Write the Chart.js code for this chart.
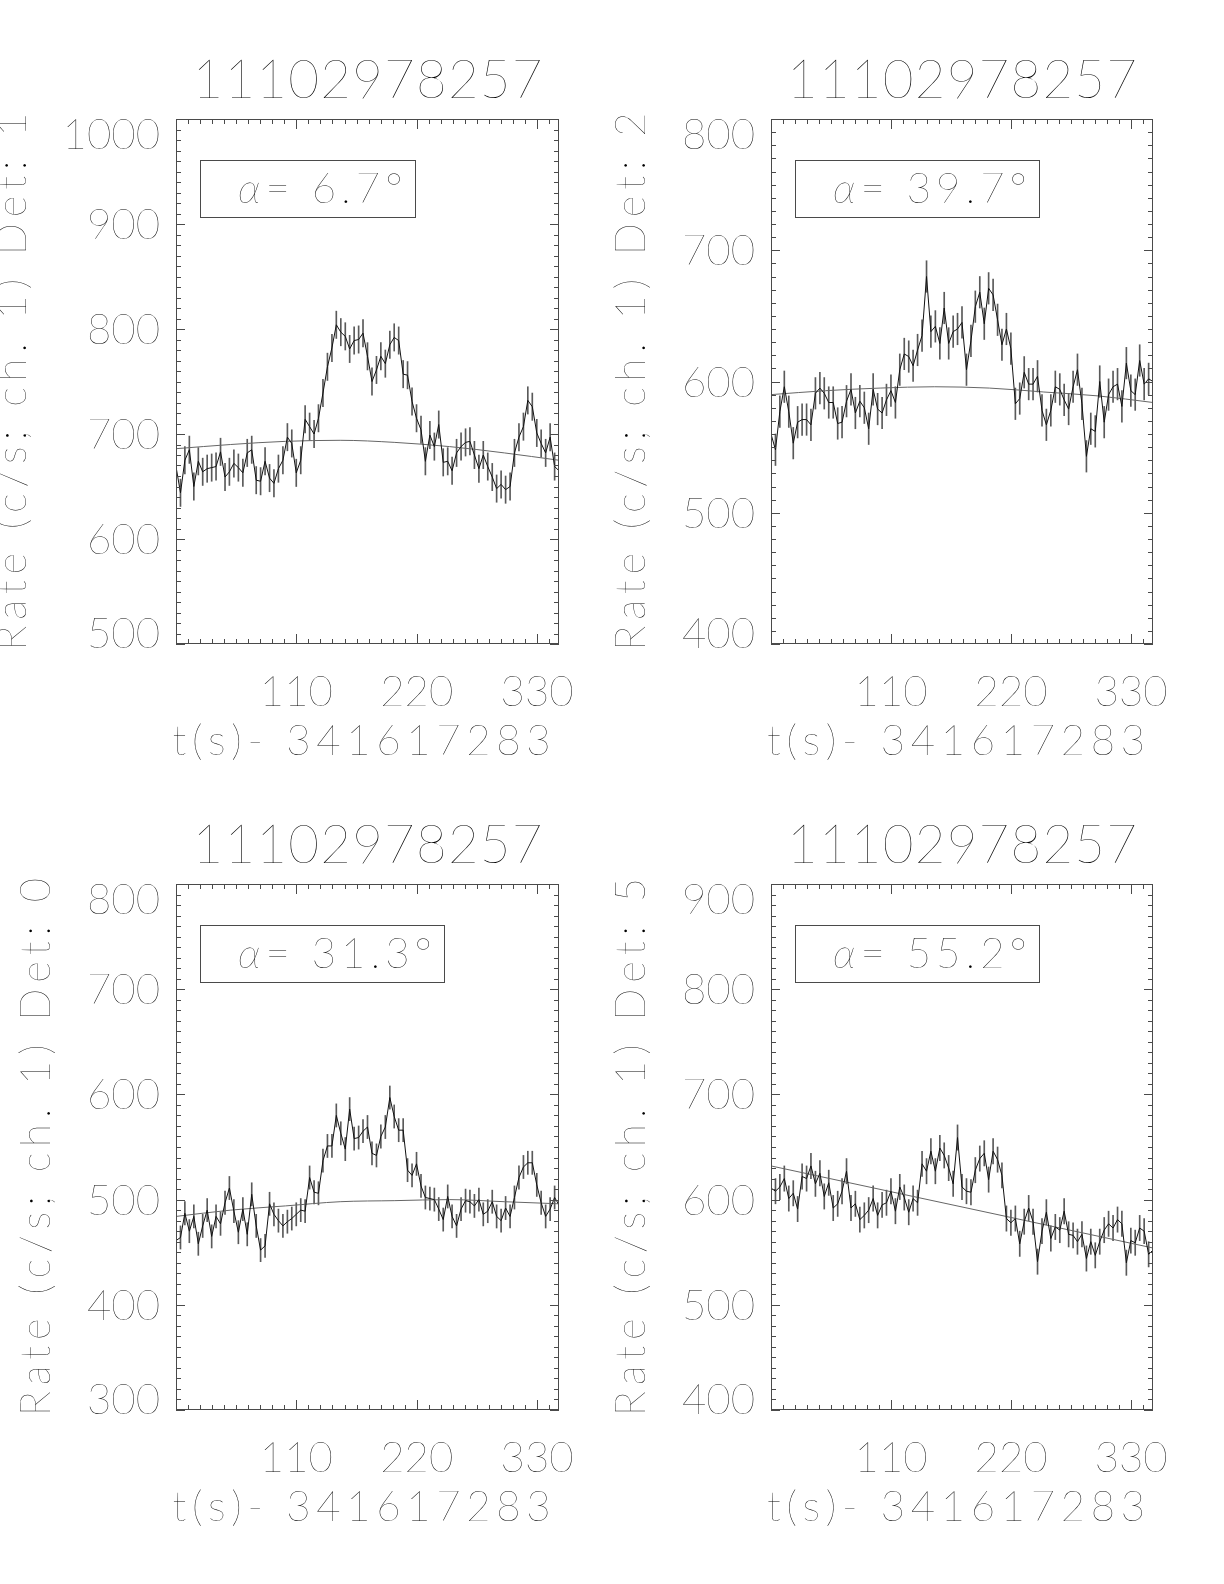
<!DOCTYPE html>
<html>
<head>
<meta charset="utf-8">
<script src="https://cdn.jsdelivr.net/npm/chart.js@4.4.1/dist/chart.umd.min.js"></script>
<style>
html,body{margin:0;padding:0;background:#fff;}
#wrap{position:relative;width:1224px;height:1584px;overflow:hidden;background:#fff;}
canvas{position:absolute;}
</style>
</head>
<body>
<div id="wrap">
<canvas id="c1" width="612" height="792" style="left:0px;top:0px"></canvas>
<canvas id="c2" width="612" height="792" style="left:612px;top:0px"></canvas>
<canvas id="c3" width="612" height="792" style="left:0px;top:792px"></canvas>
<canvas id="c4" width="612" height="792" style="left:612px;top:792px"></canvas>
</div>
<script>
// ---------------- DATA ----------------
const times = [0,4.1,8.1,12.2,16.3,20.4,24.4,28.5,32.6,36.6,40.7,44.8,48.8,52.9,57.0,61.1,65.1,69.2,73.3,77.3,
  81.4,85.5,89.5,93.6,97.7,101.8,105.8,109.9,114.0,118.0,122.1,126.2,130.2,134.3,138.4,142.5,146.5,150.6,154.7,158.7,
  162.8,166.9,170.9,175.0,179.1,183.2,187.2,191.3,195.4,199.4,203.5,207.6,211.6,215.7,219.8,223.9,227.9,232.0,236.1,240.1,
  244.2,248.3,252.3,256.4,260.5,264.6,268.6,272.7,276.8,280.8,284.9,289.0,293.0,297.1,301.2,305.3,309.3,313.4,317.5,321.5,
  325.6,329.7,333.7,337.8,341.9,346.0,350.0];

const rateDet1 = [669,644,675,685,650,674,664,667,668,669,
  683,659,664,672,668,663,682,685,656,655,
  674,658,653,667,675,697,691,663,675,714,
  707,700,715,739,764,782,804,797,793,781,
  789,790,796,774,750,761,774,767,785,792,
  789,757,756,731,715,704,674,699,688,709,
  673,674,665,682,688,692,693,680,667,680,
  669,659,648,652,647,650,682,697,707,732,
  726,701,691,682,697,669,665];

const rateDet2 = [560,548,577,596,577,553,569,571,571,567,
  591,595,591,584,584,568,569,585,594,576,
  585,580,564,594,579,576,586,593,584,609,
  621,619,612,624,635,680,638,642,629,656,
  629,638,640,645,609,631,657,668,644,671,
  666,647,628,640,625,583,587,607,598,598,
  604,578,567,578,596,594,586,579,596,609,
  583,543,564,562,600,569,590,596,598,581,
  614,593,590,616,598,602,600];

const rateDet0 = [461,464,487,470,484,458,475,490,465,484,
  477,497,511,489,469,491,467,505,475,452,
  456,496,486,480,475,479,482,486,490,489,
  521,507,506,537,551,551,580,563,548,586,
  558,559,565,569,544,542,560,569,597,579,
  566,566,528,523,534,513,502,501,500,491,
  481,503,484,475,491,499,498,494,500,486,
  489,498,484,480,492,484,502,521,531,535,
  535,514,497,484,491,502,495];

const rateDet5 = [611,608,612,620,601,606,591,622,620,632,
  615,625,603,616,592,596,608,627,592,596,
  581,585,590,601,585,595,597,608,589,612,
  602,588,601,597,634,627,646,627,649,642,
  630,615,659,612,608,607,628,639,644,619,
  646,638,623,582,578,582,558,579,592,579,
  541,570,588,563,574,571,589,567,566,560,
  567,544,560,547,560,571,577,573,581,577,
  540,561,559,573,570,548,552];

// background model curves
const modelT = [0,50,100,150,200,250,300,350];
const modelDet1 = [686,690,693,694,692,688,682,675];
const modelDet2 = [590,593,595,596,595,592,589,584];
const modelDet0 = [484,490,494,498,499,500,498,496];
const modelTLine = [0,350];
const modelDet5 = [632,554];

// error bar half widths (c/s)
const errDet1 = 13, errDet2 = 12, errDet0 = 11, errDet5 = 12;

// tick labels
const xTickLabels = [110,220,330];
const yTicksDet1 = [500,600,700,800,900,1000];
const yTicksDet2 = [400,500,600,700,800];
const yTicksDet0 = [300,400,500,600,700,800];
const yTicksDet5 = [400,500,600,700,800,900];

const titleText = '11102978257';
const xTitleText = 't(s)- 341617283';
const detNames = ['1','2','0','5'];
const alphaTexts = ['6.7','39.7','31.3','55.2'];

// ---------------- STYLE ----------------
const FONT = '"Lato","DejaVu Sans",sans-serif';
const WEIGHT = 200;
const TEXT_COLOR = '#000';
const X_RANGE = [0, 350];
const X_MINOR = 11, Y_MINOR = 10;

function clamp(v, lo, hi){ return Math.max(lo, Math.min(hi, v)); }
function rawWidth(ctx, text){ let w = 0; for (const ch of text) w += ctx.measureText(ch).width; return w; }
function spacedWidth(ctx, text, ls){ const n = [...text].length; return rawWidth(ctx, text) + ls * (n - 1); }
function drawSpaced(ctx, text, x, y, ls){
  for (const ch of text){ ctx.fillText(ch, x, y); x += ctx.measureText(ch).width + ls; }
  return x;
}
function fitLS(ctx, text, target){ const n = [...text].length; return (target - rawWidth(ctx, text)) / (n - 1); }

const framePlugin = {
  id: 'idlFrame',
  afterDraw(chart){
    const p = chart.options.plugins.idlFrame;
    const ctx = chart.ctx, a = chart.chartArea, xs = chart.scales.x, ys = chart.scales.y;
    const L = Math.round(a.left), R = Math.round(a.right), T = Math.round(a.top), B = Math.round(a.bottom);
    ctx.save();
    // frame
    ctx.strokeStyle = '#4a4a4a';
    ctx.lineWidth = 1;
    ctx.strokeRect(L + 0.5, T + 0.5, R - L - 1, B - T - 1);
    ctx.beginPath();
    for (let v = ys.min; v <= ys.max + 1e-6; v += Y_MINOR){
      const yy = Math.round(ys.getPixelForValue(v)) + 0.5;
      const major = p.yTicks.includes(v);
      const len = major ? 9 : 5;
      ctx.moveTo(L, yy); ctx.lineTo(L + len, yy);
      ctx.moveTo(R, yy); ctx.lineTo(R - len, yy);
    }
    for (let v = xs.min; v <= xs.max + 1e-6; v += X_MINOR){
      const xx = Math.round(xs.getPixelForValue(v)) + 0.5;
      const major = xTickLabels.includes(v);
      const len = major ? 10 : 5;
      ctx.moveTo(xx, B); ctx.lineTo(xx, B - len);
      ctx.moveTo(xx, T); ctx.lineTo(xx, T + len);
    }
    ctx.stroke();

    ctx.fillStyle = TEXT_COLOR;
    ctx.textBaseline = 'alphabetic';
    // y tick labels
    ctx.font = `${WEIGHT} 42px ${FONT}`;
    ctx.textAlign = 'right';
    let maxW = 0;
    for (const v of p.yTicks){
      const s = String(v);
      maxW = Math.max(maxW, ctx.measureText(s).width);
      const cy = clamp(ys.getPixelForValue(v), a.top + 15, a.bottom - 11);
      ctx.fillText(s, a.left - 16, cy + 15);
    }
    // x tick labels
    ctx.textAlign = 'center';
    for (const v of xTickLabels){
      ctx.fillText(String(v), xs.getPixelForValue(v), a.bottom + 62);
    }
    ctx.textAlign = 'left';
    // x title
    let ls = fitLS(ctx, xTitleText, 378);
    let w = spacedWidth(ctx, xTitleText, ls);
    drawSpaced(ctx, xTitleText, (a.left + a.right) / 2 - 6 - w / 2, a.bottom + 111, ls);
    // title
    ctx.font = `${WEIGHT} 53px ${FONT}`;
    ls = fitLS(ctx, titleText, 350);
    w = spacedWidth(ctx, titleText, ls);
    drawSpaced(ctx, titleText, (a.left + a.right) / 2 - w / 2, a.top - 21, ls);
    // y title (rotated)
    ctx.font = `${WEIGHT} 42px ${FONT}`;
    const yTitle = 'Rate (c/s; ch. 1) Det: ' + p.det;
    ls = fitLS(ctx, yTitle, 538);
    w = spacedWidth(ctx, yTitle, ls);
    const cx = a.left - 16 - maxW - 52;
    ctx.save();
    ctx.translate(cx, (a.top + a.bottom) / 2);
    ctx.rotate(-Math.PI / 2);
    drawSpaced(ctx, yTitle, -w / 2, 15, ls);
    ctx.restore();
    // inset box with alpha
    const insetLS = 5;
    ctx.font = `italic ${WEIGHT} 42px ${FONT}`;
    const wa = ctx.measureText('\u03b1').width;
    ctx.font = `${WEIGHT} 42px ${FONT}`;
    const rest = '= ' + p.alpha + '\u00b0';
    const wr = spacedWidth(ctx, rest, insetLS);
    const bx = L + 24, by = T + 41, bh = 57;
    const bw = Math.round(38 + wa + insetLS + wr + 12);
    ctx.strokeRect(bx + 0.5, by + 0.5, bw, bh);
    ctx.font = `italic ${WEIGHT} 42px ${FONT}`;
    ctx.fillText('\u03b1', bx + 38, by + 43);
    ctx.font = `${WEIGHT} 42px ${FONT}`;
    drawSpaced(ctx, rest, bx + 38 + wa + insetLS, by + 43, insetLS);
    ctx.restore();
  }
};

function makePanel(id, rate, mT, mY, err, yMin, yMax, yTicks, det, alpha, pad){
  const lineData = times.map((t, i) => ({x: t, y: rate[i]}));
  const errData = times.map((t, i) => ({x: t, y: [rate[i] - err, rate[i] + err]}));
  const modelData = mT.map((t, i) => ({x: t, y: mY[i]}));
  return new Chart(document.getElementById(id), {
    type: 'line',
    data: {
      datasets: [
        {type: 'bar', data: errData, backgroundColor: '#5a5a5a', borderWidth: 0, barThickness: 1, order: 3},
        {type: 'line', data: lineData, borderColor: '#111', borderWidth: 1, pointRadius: 0, tension: 0, order: 1},
        {type: 'line', data: modelData, borderColor: '#666', borderWidth: 1, pointRadius: 0,
         cubicInterpolationMode: 'monotone', order: 2}
      ]
    },
    options: {
      responsive: false, animation: false, devicePixelRatio: 1,
      layout: {padding: pad},
      plugins: {
        legend: {display: false}, tooltip: {enabled: false},
        idlFrame: {yTicks: yTicks, det: det, alpha: alpha}
      },
      scales: {
        x: {type: 'linear', min: X_RANGE[0], max: X_RANGE[1], display: false, offset: false},
        y: {type: 'linear', min: yMin, max: yMax, display: false}
      }
    },
    plugins: [framePlugin]
  });
}

const padLeftCol = {left: 176, right: 53};
const padRightCol = {left: 159, right: 71};
const padTopRow = {top: 119, bottom: 148};
const padBotRow = {top: 92, bottom: 174};

makePanel('c1', rateDet1, modelT, modelDet1, errDet1, 500, 1000, yTicksDet1, detNames[0], alphaTexts[0], {...padLeftCol, ...padTopRow});
makePanel('c2', rateDet2, modelT, modelDet2, errDet2, 400, 800, yTicksDet2, detNames[1], alphaTexts[1], {...padRightCol, ...padTopRow});
makePanel('c3', rateDet0, modelT, modelDet0, errDet0, 300, 800, yTicksDet0, detNames[2], alphaTexts[2], {...padLeftCol, ...padBotRow});
makePanel('c4', rateDet5, modelTLine, modelDet5, errDet5, 400, 900, yTicksDet5, detNames[3], alphaTexts[3], {...padRightCol, ...padBotRow});
</script>
</body>
</html>
